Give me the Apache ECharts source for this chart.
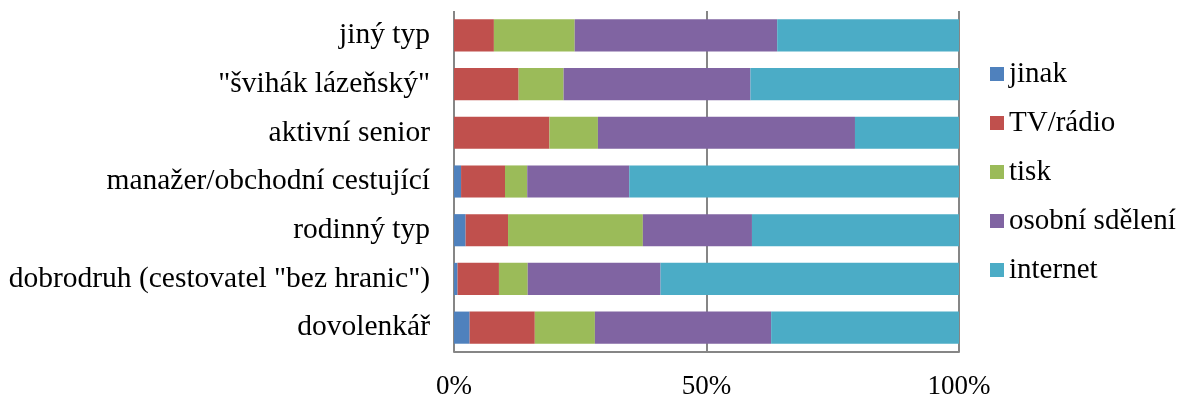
<!DOCTYPE html>
<html>
<head>
<meta charset="utf-8">
<script src="https://cdn.jsdelivr.net/npm/echarts@6/dist/echarts.min.js"></script>
<style>
  html, body { margin: 0; padding: 0; background: #fff; }
  #chart { width: 1181px; height: 396px; }
</style>
</head>
<body>
<div id="chart"></div>
<script>
// Traveller types, listed top to bottom
const categories = [
  'jiný typ',
  '"švihák lázeňský"',
  'aktivní senior',
  'manažer/obchodní cestující',
  'rodinný typ',
  'dobrodruh (cestovatel "bez hranic")',
  'dovolenkář'
];

// Share of each information source (%) per traveller type
const jinak    = [0.0, 0.0, 0.0, 1.4, 2.3, 0.7, 3.1];
const tvRadio  = [7.9, 12.8, 18.9, 8.7, 8.4, 8.2, 12.9];
const tisk     = [16.0, 8.9, 9.6, 4.4, 26.7, 5.7, 11.9];
const osobni   = [40.1, 37.0, 50.9, 20.2, 21.6, 26.3, 34.9];
const internet = [36.0, 41.3, 20.6, 65.3, 41.0, 59.1, 37.2];

const seriesNames = ['jinak', 'TV/rádio', 'tisk', 'osobní sdělení', 'internet'];
const seriesData = [jinak, tvRadio, tisk, osobni, internet];
const colors = ['#4F81BD', '#C0504D', '#9BBB59', '#8064A2', '#4BACC6'];

const FONT = '"Liberation Serif", "Times New Roman", serif';

const chart = echarts.init(document.getElementById('chart'), null, { renderer: 'canvas' });

chart.setOption({
  animation: false,
  backgroundColor: '#ffffff',
  color: colors,
  textStyle: { fontFamily: FONT },
  grid: {
    left: 454, right: 222, top: 11, bottom: 44,
    containLabel: false,
    outerBoundsMode: 'none'
  },
  legend: {
    orient: 'vertical',
    left: 985,
    top: 54,
    itemWidth: 14,
    itemHeight: 14,
    itemGap: 19,
    icon: 'rect',
    data: seriesNames,
    textStyle: { fontFamily: FONT, fontSize: 29, color: '#000', lineHeight: 30 }
  },
  xAxis: {
    type: 'value',
    min: 0,
    max: 100,
    interval: 50,
    axisLine: { show: true, lineStyle: { color: '#868686', width: 2 } },
    axisTick: { show: false },
    splitLine: { show: true, lineStyle: { color: '#868686', width: 2 } },
    axisLabel: {
      formatter: '{value}%',
      fontFamily: FONT,
      fontSize: 27,
      color: '#000',
      margin: 21
    }
  },
  yAxis: {
    type: 'category',
    data: categories,
    inverse: true,
    axisLine: { show: false },
    axisTick: { show: false },
    splitLine: { show: false },
    axisLabel: {
      fontFamily: FONT,
      fontSize: 29.5,
      color: '#000',
      margin: 24
    }
  },
  series: seriesNames.map((name, i) => ({
    name: name,
    type: 'bar',
    stack: 'total',
    barCategoryGap: '34%',
    data: seriesData[i],
    itemStyle: { color: colors[i] }
  }))
});
</script>
</body>
</html>
